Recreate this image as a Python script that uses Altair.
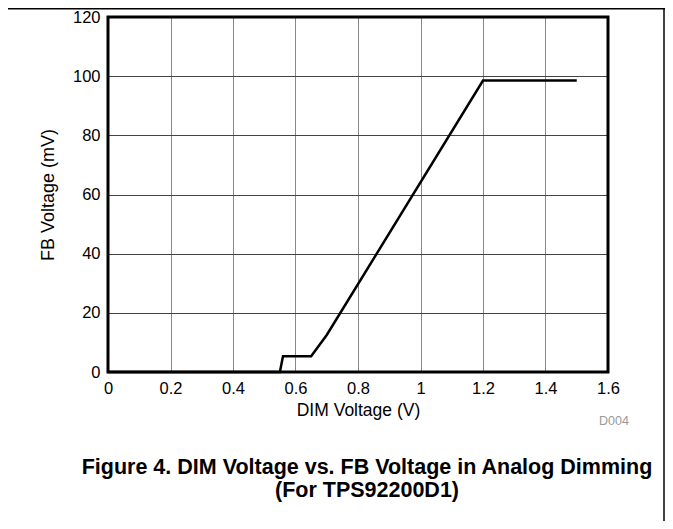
import altair as alt
import pandas as pd

# Data
dim_v = [0.0, 0.55, 0.56, 0.65, 0.70, 1.20, 1.50]
fb_mv = [0.0, 0.0, 5.3, 5.3, 12.5, 98.5, 98.5]

x_ticks = [0, 0.2, 0.4, 0.6, 0.8, 1.0, 1.2, 1.4, 1.6]
y_ticks = [0, 20, 40, 60, 80, 100, 120]

caption1 = "Figure 4. DIM Voltage vs. FB Voltage in Analog Dimming"
caption2 = "(For TPS92200D1)"
tag = "D004"

W, H = 500, 355
FONT = "Liberation Sans, Arial, Helvetica, sans-serif"

df = pd.DataFrame({"dim": dim_v, "fb": fb_mv})

line = alt.Chart(df).mark_line(color="black", strokeWidth=2.5, clip=False).encode(
    x=alt.X("dim:Q",
            scale=alt.Scale(domain=[0, 1.6], nice=False),
            axis=alt.Axis(values=x_ticks, title="DIM Voltage (V)", labelFontSize=16.5,
                          labelPadding=8, ticks=False, domain=False, format="~g",
                          gridColor="#888888", gridWidth=1,
                          labelColor="black", titleColor="black",
                          titleFontSize=17.5, titleFontWeight="normal",
                          titleY=43, titleBaseline="alphabetic",
                          labelFlush=False)),
    y=alt.Y("fb:Q",
            scale=alt.Scale(domain=[0, 120], nice=False),
            axis=alt.Axis(values=y_ticks, title="FB Voltage (mV)", labelFontSize=16.5,
                          labelPadding=8, ticks=False, domain=False, format="d",
                          gridColor="#444444", gridWidth=1,
                          labelColor="black", titleColor="black",
                          titleFontSize=18, titleFontWeight="normal",
                          titleX=-55, titleY=H / 2, titleAngle=-90,
                          titleBaseline="alphabetic", titleAlign="center",
                          labelFlush=False)),
    order=alt.Order("dim:Q"),
)

cap_df1 = pd.DataFrame({"t": [caption1]})
cap_df2 = pd.DataFrame({"t": [caption2]})
tag_df = pd.DataFrame({"t": [tag]})

border = alt.Chart(tag_df).mark_rect(fill=None, stroke="black", strokeWidth=3).encode(
    x=alt.value(0), x2=alt.value(W), y=alt.value(0), y2=alt.value(H))

cap1 = alt.Chart(cap_df1).mark_text(fontSize=21.5, fontWeight="bold", font=FONT,
                                    align="center", baseline="middle", color="black").encode(
    text="t:N", x=alt.value(259), y=alt.value(451))
cap2 = alt.Chart(cap_df2).mark_text(fontSize=21.5, fontWeight="bold", font=FONT,
                                    align="center", baseline="middle", color="black").encode(
    text="t:N", x=alt.value(259), y=alt.value(474))
tagm = alt.Chart(tag_df).mark_text(fontSize=12.5, font=FONT, align="center",
                                   baseline="middle", color="#999999").encode(
    text="t:N", x=alt.value(506), y=alt.value(404))

frame_top = alt.Chart(tag_df).mark_rule(color="black", strokeWidth=1.5).encode(
    x=alt.value(-100), x2=alt.value(557), y=alt.value(-8.2))
frame_right = alt.Chart(tag_df).mark_rule(color="black", strokeWidth=1.5).encode(
    x=alt.value(556), y=alt.value(-9), y2=alt.value(504))

chart = alt.layer(line, border, cap1, cap2, tagm, frame_top, frame_right).properties(
    width=W, height=H,
    autosize=alt.AutoSizeParams(type="none"),
    padding={"left": 100, "top": 9, "right": 57, "bottom": 149},
).configure_view(strokeWidth=0).configure_axis(
    labelFont=FONT, titleFont=FONT
).configure(background="white")

chart.save("out.html", embed_options={"renderer": "svg", "actions": False})
